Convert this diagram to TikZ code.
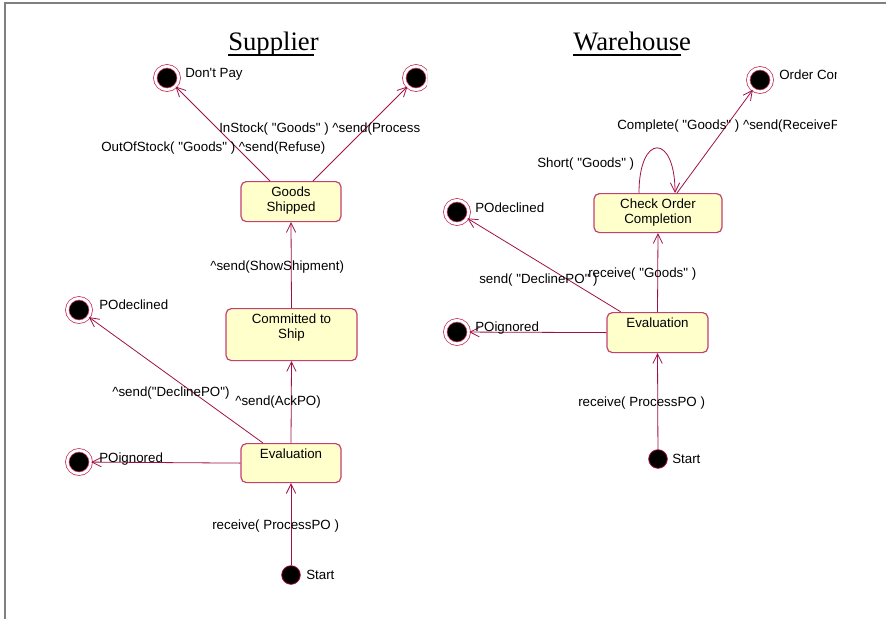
\documentclass[tikz,border=0pt]{standalone}
\usepackage{fontspec}
\setmainfont{Liberation Sans}
\newfontfamily\titlefont{Liberation Serif}
\usetikzlibrary{arrows.meta}

\definecolor{edgec}{RGB}{160,16,72}
\definecolor{boxc}{RGB}{196,64,112}
\definecolor{fillc}{RGB}{255,255,204}
\definecolor{ringc}{RGB}{200,60,100}
\definecolor{framec}{RGB}{128,128,128}
\newcommand\qq{\textquotedbl}

\begin{document}
\begin{tikzpicture}[x=0.75pt, y=-0.75pt, >={Straight Barb[length=7pt,width=7pt]}, font=\fontsize{10}{11.5}\selectfont]
        \tikzstyle{state}=[draw=boxc, fill=fillc, rounded corners=4pt, line width=0.9pt, anchor=north, align=center, inner sep=2pt, text height=9pt]
        \tikzstyle{final}=[circle, fill=black, draw=ringc, double=white, double distance=2pt, line width=0.6pt, minimum size=17.6pt, inner sep=0pt]
        \tikzstyle{start}=[circle, fill=black, draw=edgec, line width=0.6pt, minimum size=14pt, inner sep=0pt]
        \tikzstyle{lbl}=[anchor=west, inner sep=0pt, text height=7.2pt, text depth=0pt]
        \tikzstyle{title}=[anchor=base west, inner sep=0pt, font=\titlefont\fontsize{20}{24}\selectfont]
        \tikzstyle{trans}=[->, draw=edgec, line width=0.6pt]

        \useasboundingbox (0,0) rectangle (886,619);
        \draw[framec, line width=0.8pt] (886,3) -- (5,3) -- (5,619);

        % Supplier
        \begin{scope}
        \clip (0,0) rectangle (427,619);
        \node[title](sup) at (228,50){Supplier};
        \draw[line width=1.4pt] ([yshift=-3.8pt]sup.base west) -- ([yshift=-3.8pt,xshift=-3.5pt]sup.base east);

        \node[final](dp) at (167,78){};
        \node[final](ip) at (416,78){};
        \node[state, minimum width=75pt, text height=20.5pt, text depth=5.5pt](gs) at (291,181){Goods\\Shipped};
        \node[state, minimum width=98.25pt, text height=20.5pt, text depth=14.5pt](cs) at (291.5,308){Committed to\\Ship};
        \node[final](pd) at (79,310){};
        \node[state, minimum width=75pt, text depth=16.25pt](ev) at (291,443){Evaluation};
        \node[final](pi) at (79,462){};
        \node[start](st) at (291,575){};

        \draw[trans] ([xshift=-15.75pt]gs.north) -- (dp);
        \draw[trans] ([xshift=16.5pt]gs.north) -- (ip);
        \draw[trans] (cs.north) -- (gs.south);
        \draw[trans] (ev.north) -- (cs.south);
        \draw[trans] ([xshift=-21pt]ev.north) -- (pd);
        \draw[trans] (ev.west) -- (pi);
        \draw[trans] (st) -- (ev.south);

        \node[lbl](dpl) at (185,73){Don\textquotesingle t Pay};
        \node[lbl](isl) at (219,128){InStock( \qq Goods\qq\ ) \textasciicircum send(Process};
        \node[lbl](osl) at (101,147){OutOfStock( \qq Goods\qq\ ) \textasciicircum send(Refuse)};
        \node[lbl](ssl) at (210,266){\textasciicircum send(ShowShipment)};
        \node[lbl](pdl) at (99,305){POdeclined};
        \node[lbl](dcl) at (112,392){\textasciicircum send(\qq DeclinePO\qq)};
        \node[lbl](akl) at (235,401){\textasciicircum send(AckPO)};
        \node[lbl](pil) at (99,458){POignored};
        \node[lbl](rpl) at (212,525){receive( ProcessPO )};
        \node[lbl](stl) at (306,575){Start};
        \end{scope}

        % Warehouse
        \begin{scope}
        \clip (427,0) rectangle (836,619);
        \node[title](wh) at (573,50){Warehouse};
        \draw[line width=1.4pt] ([yshift=-3.8pt]wh.base west) -- ([yshift=-3.8pt,xshift=-7.5pt]wh.base east);

        \node[final](oc) at (760,80){};
        \node[state, minimum width=96pt, text height=20.5pt, text depth=4.75pt](coc) at (658,193){Check Order\\Completion};
        \node[final](wpd) at (457,212){};
        \node[state, minimum width=75.75pt, text depth=17pt](wev) at (657.5,312){Evaluation};
        \node[final](wpi) at (457,332){};
        \node[start](wst) at (658,459){};

        \draw[trans] ([xshift=14.25pt]coc.north) -- (oc);
        \draw[trans] ([xshift=-14.25pt]coc.north) .. controls +(0,-60) and +(0,-60) .. ([xshift=12.75pt]coc.north);
        \draw[trans] (wev.north) -- (coc.south);
        \draw[trans] ([xshift=-27.4pt]wev.north) -- (wpd);
        \draw[trans] (wev.west) -- (wpi);
        \draw[trans] (wst) -- (wev.south);

        \node[lbl](ocl) at (779,75){Order Com};
        \node[lbl](cpl) at (617,125){Complete( \qq Goods\qq\ ) \textasciicircum send(ReceiveP};
        \node[lbl](shl) at (537,163){Short( \qq Goods\qq\ )};
        \node[lbl](wpdl) at (475,208){POdeclined};
        \node[lbl](wdcl) at (479,279){send( \qq DeclinePO\qq\ )};
        \node[lbl](rgl) at (588,273){receive( \qq Goods\qq\ )};
        \node[lbl](wpil) at (475,327){POignored};
        \node[lbl](wrpl) at (578,402){receive( ProcessPO )};
        \node[lbl](wstl) at (672,459){Start};
        \end{scope}

        \end{tikzpicture}
\end{document}
